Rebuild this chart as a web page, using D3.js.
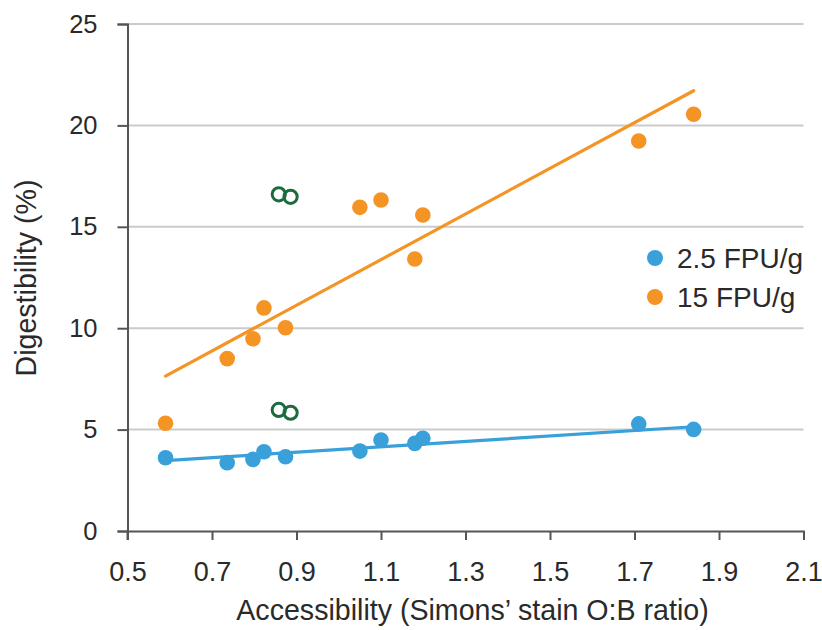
<!DOCTYPE html>
<html>
<head>
<meta charset="utf-8">
<script src="https://cdn.jsdelivr.net/npm/d3@7"></script>
<style>
  html, body { margin: 0; padding: 0; background: #ffffff; }
  svg { display: block; font-family: "Liberation Sans", Arial, Helvetica, sans-serif; }
</style>
</head>
<body>
<svg id="chart" width="822" height="630"></svg>
<script>
// Simons' stain accessibility (O:B ratio) for each substrate
const accessibility = [0.59, 0.736, 0.797, 0.823, 0.874, 1.05, 1.10, 1.18, 1.199, 1.71, 1.84];

// Digestibility (%) at each enzyme loading
const digest25 = [3.61, 3.37, 3.53, 3.91, 3.66, 3.94, 4.49, 4.32, 4.57, 5.28, 5.01];
const digest15 = [5.31, 8.50, 9.48, 11.0, 10.02, 15.96, 16.32, 13.41, 15.58, 19.23, 20.55];

// Outlying samples, drawn as open circles
const outlierX = [0.858, 0.886];
const outlier25 = [5.97, 5.83];
const outlier15 = [16.60, 16.48];

// Linear trend lines: [x start, x end] and fitted y at each end
const trendX = [0.59, 1.84];
const trend25 = [3.47, 5.14];
const trend15 = [7.64, 21.71];

const seriesNames = ["2.5 FPU/g", "15 FPU/g"];
const seriesColors = ["#3aa0da", "#f39424"];
const outlierColor = "#1b6b3e";

const xTicks = [0.5, 0.7, 0.9, 1.1, 1.3, 1.5, 1.7, 1.9, 2.1];
const yTicks = [0, 5, 10, 15, 20, 25];

const xTitle = "Accessibility (Simons\u2019 stain O:B ratio)";
const yTitle = "Digestibility (%)";

const svg = d3.select("#chart");
const x = d3.scaleLinear().domain([0.5, 2.1]).range([127.5, 803.5]);
const y = d3.scaleLinear().domain([0, 25]).range([531, 24]);

const textColor = "#2a2a2a";
const axisColor = "#555555";

// horizontal gridlines
svg.append("g")
  .selectAll("line")
  .data(yTicks.filter(d => d > 0))
  .join("line")
  .attr("x1", x(0.5)).attr("x2", x(2.1))
  .attr("y1", d => y(d)).attr("y2", d => y(d))
  .attr("stroke", "#cbcbcb").attr("stroke-width", 2);

// y axis
const yAxis = svg.append("g")
  .attr("transform", `translate(${x(0.5)},0)`)
  .call(d3.axisLeft(y).tickValues(yTicks).tickSize(10).tickPadding(20).tickFormat(d3.format("d")));
yAxis.select(".domain").attr("stroke", axisColor).attr("stroke-width", 2);
yAxis.selectAll(".tick line").attr("stroke", axisColor).attr("stroke-width", 2);
yAxis.selectAll(".tick text")
  .attr("fill", textColor).attr("font-size", 25.5).attr("font-family", "Liberation Sans, Arial, sans-serif");

// x axis
const xAxis = svg.append("g")
  .attr("transform", `translate(0,${y(0)})`)
  .call(d3.axisBottom(x).tickValues(xTicks).tickSize(9).tickPadding(22).tickFormat(d3.format(".1f")));
xAxis.select(".domain").attr("stroke", axisColor).attr("stroke-width", 2);
xAxis.selectAll(".tick line").attr("stroke", axisColor).attr("stroke-width", 2);
xAxis.selectAll(".tick text")
  .attr("fill", textColor).attr("font-size", 27).attr("font-family", "Liberation Sans, Arial, sans-serif");

// extend y axis a little below the x axis
svg.append("line")
  .attr("x1", x(0.5)).attr("x2", x(0.5))
  .attr("y1", y(0)).attr("y2", y(0) + 9)
  .attr("stroke", axisColor).attr("stroke-width", 2);

// trend lines
const lineGen = d3.line().x(d => x(d[0])).y(d => y(d[1]));
[[trend25, seriesColors[0]], [trend15, seriesColors[1]]].forEach(([vals, col]) => {
  svg.append("path")
    .datum(d3.zip(trendX, vals))
    .attr("d", lineGen)
    .attr("fill", "none")
    .attr("stroke", col)
    .attr("stroke-width", 3.2)
    .attr("stroke-linecap", "round");
});

// scatter points
[[digest25, seriesColors[0]], [digest15, seriesColors[1]]].forEach(([vals, col]) => {
  svg.append("g")
    .selectAll("circle")
    .data(d3.zip(accessibility, vals))
    .join("circle")
    .attr("cx", d => x(d[0]))
    .attr("cy", d => y(d[1]))
    .attr("r", 7.8)
    .attr("fill", col);
});

// open-circle outliers
[outlier25, outlier15].forEach(vals => {
  svg.append("g")
    .selectAll("circle")
    .data(d3.zip(outlierX, vals))
    .join("circle")
    .attr("cx", d => x(d[0]))
    .attr("cy", d => y(d[1]))
    .attr("r", 6.6)
    .attr("fill", "none")
    .attr("stroke", outlierColor)
    .attr("stroke-width", 3);
});

// legend
const legend = svg.append("g").attr("transform", "translate(655,258)");
seriesNames.forEach((name, i) => {
  const g = legend.append("g").attr("transform", `translate(0,${i * 39})`);
  g.append("circle").attr("r", 8).attr("fill", seriesColors[i]);
  g.append("text")
    .attr("x", 22).attr("y", 10)
    .attr("fill", textColor)
    .attr("font-size", 28)
    .text(name);
});

// axis titles
svg.append("text")
  .attr("x", 472.5).attr("y", 620)
  .attr("text-anchor", "middle")
  .attr("fill", textColor)
  .attr("font-size", 28.6)
  .text(xTitle);

svg.append("text")
  .attr("transform", "translate(36,278) rotate(-90)")
  .attr("text-anchor", "middle")
  .attr("fill", textColor)
  .attr("font-size", 28.6)
  .text(yTitle);
</script>
</body>
</html>
